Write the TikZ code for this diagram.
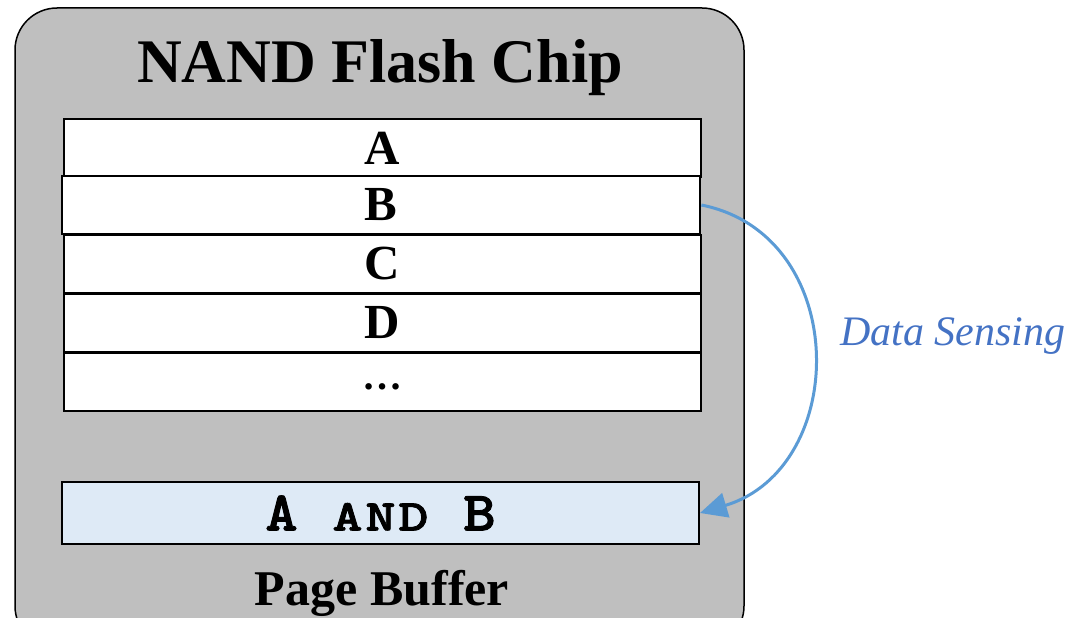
\documentclass[tikz,border=0pt]{standalone}
\usepackage{fontspec}
\usepackage{graphicx}
\setmainfont{Liberation Serif}
\newfontfamily\bufmono{lmmonolt10-bold.otf}[FakeBold=1.5]
\usetikzlibrary{arrows.meta}
\definecolor{chipgray}{RGB}{191,191,191}
\definecolor{bufblue}{RGB}{222,234,246}
\definecolor{arrowblue}{RGB}{91,155,213}
\definecolor{labelblue}{RGB}{68,114,196}
% monospace cells: a full-size letter, and a small-capital letter
\newcommand{\bigcell}[1]{\makebox[33pt]{\scalebox{1.1}[1]{#1}}}
\newcommand{\sccell}[1]{\makebox[33pt]{\scalebox{1.3}[1]{\fontsize{44}{44}\selectfont #1}}}
\begin{document}
\begin{tikzpicture}[x=1pt,y=-1pt,
  chipbox/.style={draw=black, line width=1.5pt, fill=chipgray, rounded corners=42pt,
    minimum width=729pt, minimum height=640pt, inner sep=0pt},
  rowbox/.style={draw=black, line width=2pt, fill=white, minimum width=637pt,
    minimum height=58pt, inner sep=0pt, font=\bfseries\fontsize{49}{49}\selectfont},
  bufbox/.style={draw=black, line width=2pt, fill=bufblue, minimum width=637pt,
    minimum height=62pt, inner sep=0pt, font=\bufmono\fontsize{56}{56}\selectfont},
  sense/.style={draw=arrowblue, line width=3pt, -{Triangle[length=27pt,width=25pt]}},
  titletext/.style={font=\bfseries\fontsize{62}{62}\selectfont, inner sep=0pt},
  buftext/.style={font=\bfseries\fontsize{50}{50}\selectfont, inner sep=0pt},
  sensetext/.style={font=\itshape\fontsize{42}{42}\selectfont, text=labelblue, inner sep=0pt}]
\useasboundingbox (0,0) rectangle (1073,618);
\clip (0,0) rectangle (1073,618);

% chip outline
\node[chipbox] (chip) at (379.5,328) {};
\node[titletext, anchor=base] (title) at (380,82) {NAND Flash Chip};

% memory pages
\node[rowbox] (rowA) at (382.5,148) {\raisebox{-2pt}{A}};
\node[rowbox] (rowC) at (382.5,263.5) {\raisebox{-2pt}{C}};
\node[rowbox] (rowD) at (382.5,322.5) {\raisebox{-2pt}{D}};
\node[rowbox] (rowE) at (382.5,381.5) {\raisebox{-16pt}{\fontsize{40}{40}\selectfont\dots}};
\node[rowbox, line width=2.8pt, minimum width=638pt] (rowB) at (381,205) {\raisebox{-2pt}{B}};

% page buffer
\node[bufbox] (buf) at (380.5,513)
  {\raisebox{-2pt}{\bigcell{A}\makebox[33pt]{}\sccell{A}\sccell{N}\sccell{D}\makebox[33pt]{}\bigcell{B}}};
\node[buftext, anchor=base] (buflabel) at (382,605) {Page Buffer};

% sensing arrow
\draw[sense] (rowB.east) .. controls +(150,30) and +(150,-45) .. (buf.east);
\node[sensetext, anchor=base west] (senselabel) at (840,345) {Data Sensing};
\end{tikzpicture}
\end{document}
